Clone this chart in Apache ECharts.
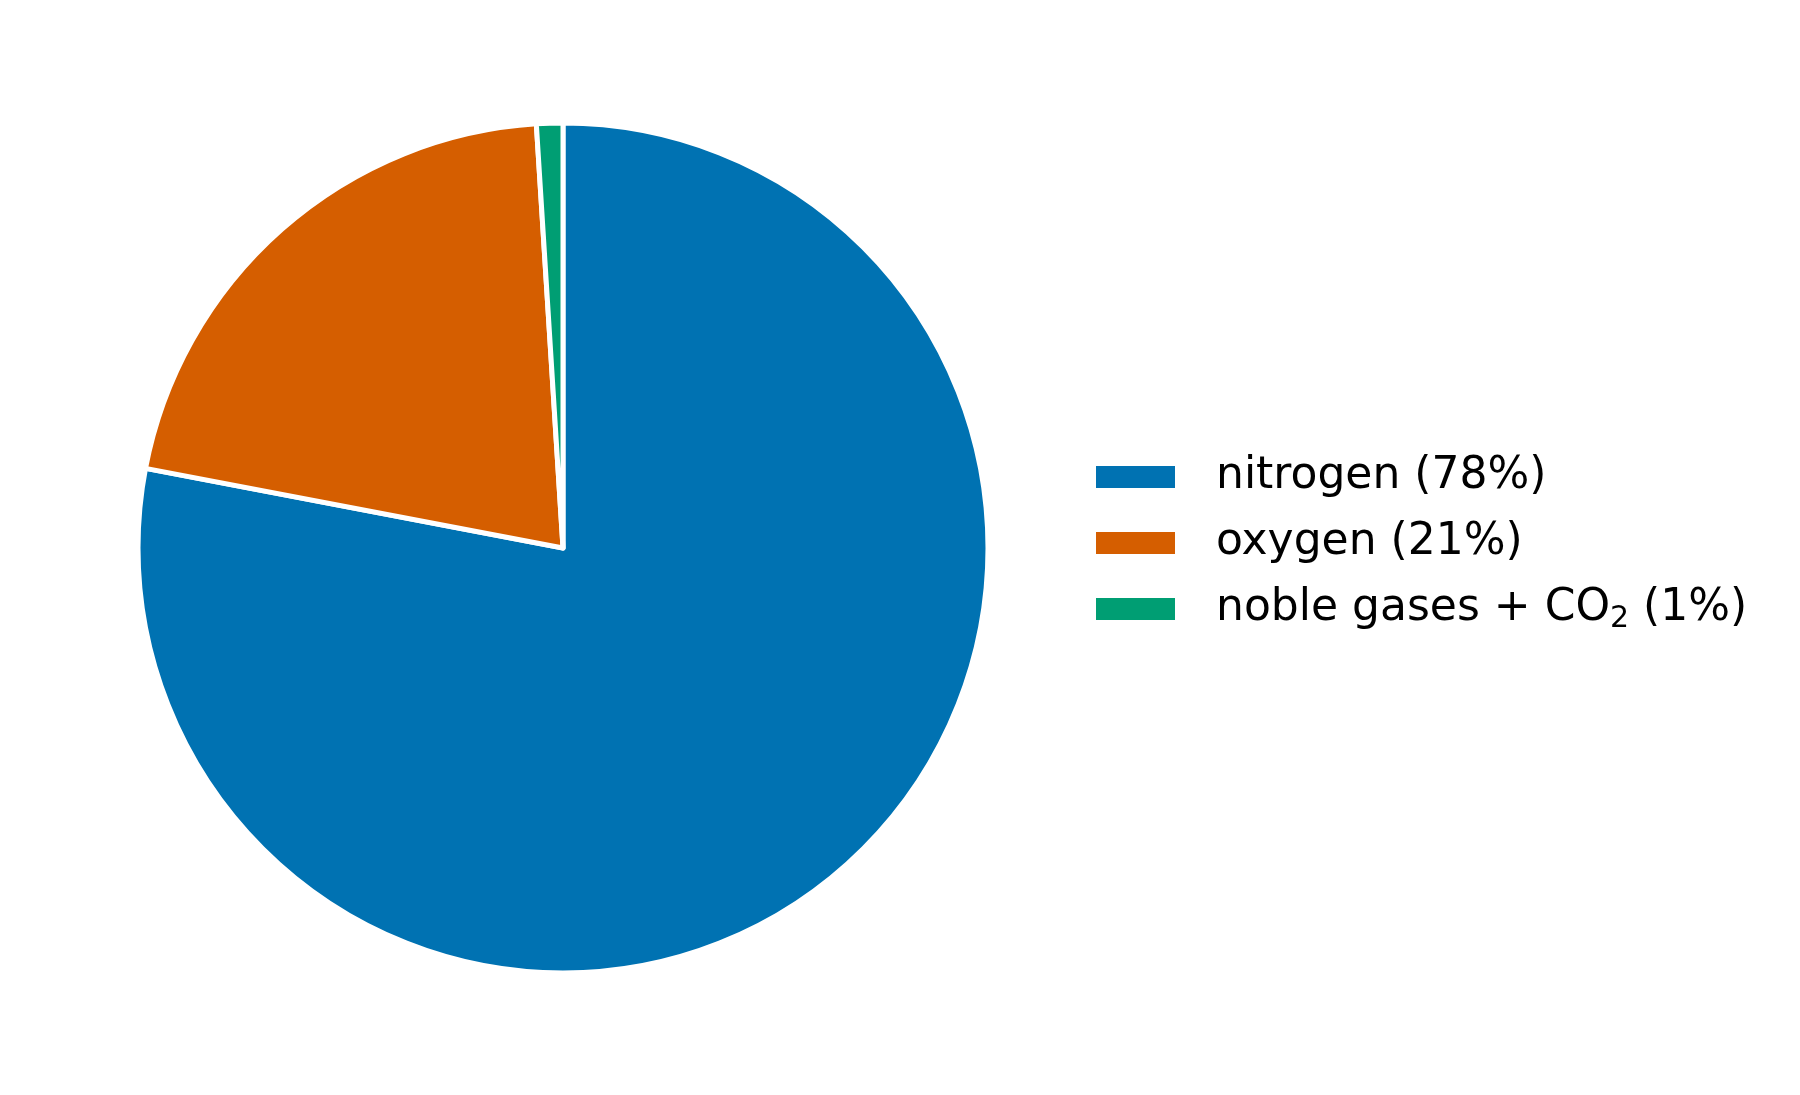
<!DOCTYPE html>
<html>
<head>
<meta charset="utf-8">
<script src="https://cdn.jsdelivr.net/npm/echarts@6/dist/echarts.min.js"></script>
<style>
html,body{margin:0;padding:0;background:#fff;}
#chart{width:1800px;height:1095px;}
</style>
</head>
<body>
<div id="chart"></div>
<script>
const categories = ['nitrogen', 'oxygen', 'noble gases + CO2'];
const values = [78, 21, 1];
const colors = ['#0072B2', '#D55E00', '#009E73'];

const chart = echarts.init(document.getElementById('chart'), null, {renderer: 'canvas'});
const data = categories.map((c, i) => ({name: c, value: values[i], itemStyle: {color: colors[i]}}));

function legendLabel(name) {
  const i = categories.indexOf(name);
  const pct = ' (' + values[i] + '%)';
  if (name === 'noble gases + CO2') {
    return '{sp|}{t|noble gases + CO}{sub|2}{t|' + pct + '}';
  }
  return '{sp|}{t|' + name + pct + '}';
}

chart.setOption({
  backgroundColor: '#ffffff',
  animation: false,
  legend: {
    orient: 'vertical',
    left: 1089,
    top: 447,
    itemWidth: 81,
    itemHeight: 24,
    itemGap: 16,
    icon: 'rect',
    selectedMode: false,
    formatter: legendLabel,
    textStyle: {
      fontFamily: 'DejaVu Sans',
      fontSize: 44,
      color: '#000',
      lineHeight: 50,
      rich: {
        sp: {width: 35},
        t: {fontFamily: 'DejaVu Sans', fontSize: 44, color: '#000', lineHeight: 50},
        sub: {fontFamily: 'DejaVu Sans', fontSize: 30, color: '#000', lineHeight: 50, verticalAlign: 'bottom', padding: [0, 0, 0, 0]}
      }
    },
    data: categories
  },
  series: [{
    type: 'pie',
    center: [563, 548],
    radius: [0, 425],
    startAngle: 90,
    clockwise: true,
    label: {show: false},
    labelLine: {show: false},
    emphasis: {disabled: true},
    itemStyle: {borderColor: '#ffffff', borderWidth: 5},
    data: data
  }]
});
</script>
</body>
</html>
